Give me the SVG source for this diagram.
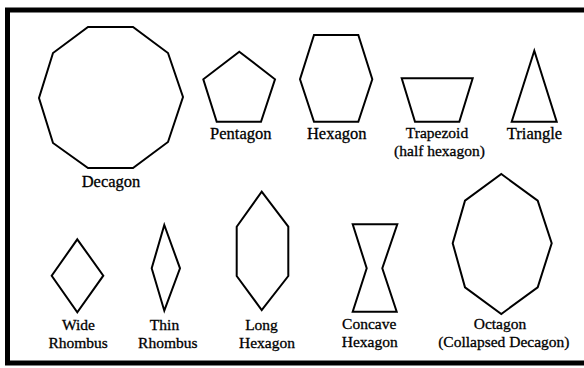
<svg xmlns="http://www.w3.org/2000/svg" width="584" height="368" viewBox="0 0 584 368">
<style>
.s{fill:none;stroke:#000;stroke-width:2;stroke-linejoin:miter}
.t{font-family:"Liberation Serif","Times New Roman",serif;font-size:16.5px;fill:#000;stroke:#000;stroke-width:0.3;text-anchor:middle}
.t2{font-family:"Liberation Serif","Times New Roman",serif;font-size:15.5px;fill:#000;stroke:#000;stroke-width:0.3;text-anchor:middle}
</style>
<rect width="584" height="368" fill="#fff"/>
<path d="M584,10 H7.5 V363 H584" fill="none" stroke="#000" stroke-width="5"/>
<g id="decagon">
<polygon class="s" points="88,27 133,27 168,53 183,97 168,142 133,168 88,168 53,143 39,98 53,53"/>
<text class="t" x="111" y="186.5">Decagon</text>
</g>
<g id="pentagon">
<polygon class="s" points="239.3,51.7 275,79.3 261,121.7 216.7,121.7 203.3,79.3"/>
<text class="t" x="240.8" y="139">Pentagon</text>
</g>
<g id="hexagon">
<polygon class="s" points="314,35 358.3,35 372.3,79.3 358.3,121.7 314,121.7 300,79.3"/>
<text class="t" x="336.7" y="139">Hexagon</text>
</g>
<g id="trapezoid">
<polygon class="s" points="401.7,78.3 472.7,78.3 459.3,121.7 415,121.7"/>
<text class="t2" x="437" y="138">Trapezoid</text>
<text class="t2" x="439.5" y="156">(half hexagon)</text>
</g>
<g id="triangle">
<polygon class="s" points="534.3,50.7 556.7,121.7 511.7,121.7"/>
<text class="t" x="534.5" y="139">Triangle</text>
</g>
<g id="wide-rhombus">
<polygon class="s" points="77.3,239.3 103.3,275.7 77.3,312.3 51.7,275.7"/>
<text class="t2" x="78.5" y="329.5">Wide</text>
<text class="t2" x="78.2" y="347.5">Rhombus</text>
</g>
<g id="thin-rhombus">
<polygon class="s" points="164.3,225 180,268.3 164.3,310.7 151.7,268.3"/>
<text class="t2" x="164.5" y="329.5">Thin</text>
<text class="t2" x="167.8" y="347.5">Rhombus</text>
</g>
<g id="long-hexagon">
<polygon class="s" points="261.7,191.7 288.3,226.7 288.3,276 261.7,310 236.7,276 236.7,226.7"/>
<text class="t2" x="261.5" y="329.5">Long</text>
<text class="t2" x="267" y="347.5">Hexagon</text>
</g>
<g id="concave-hexagon">
<polygon class="s" points="352.7,224.3 397.3,224.3 382.3,268.3 396.7,311.7 352.7,311.7 366.7,268.3"/>
<text class="t2" x="369.2" y="328.5">Concave</text>
<text class="t2" x="369.7" y="346.5">Hexagon</text>
</g>
<g id="octagon">
<polygon class="s" points="501.3,174 537.7,200.7 551.7,243.3 537.7,287.3 501.3,314 465,287.3 452.7,243.3 465,200.7"/>
<text class="t2" x="500" y="328.5">Octagon</text>
<text class="t2" x="503.8" y="346.5">(Collapsed Decagon)</text>
</g>
<g id="connectors"></g>
</svg>
